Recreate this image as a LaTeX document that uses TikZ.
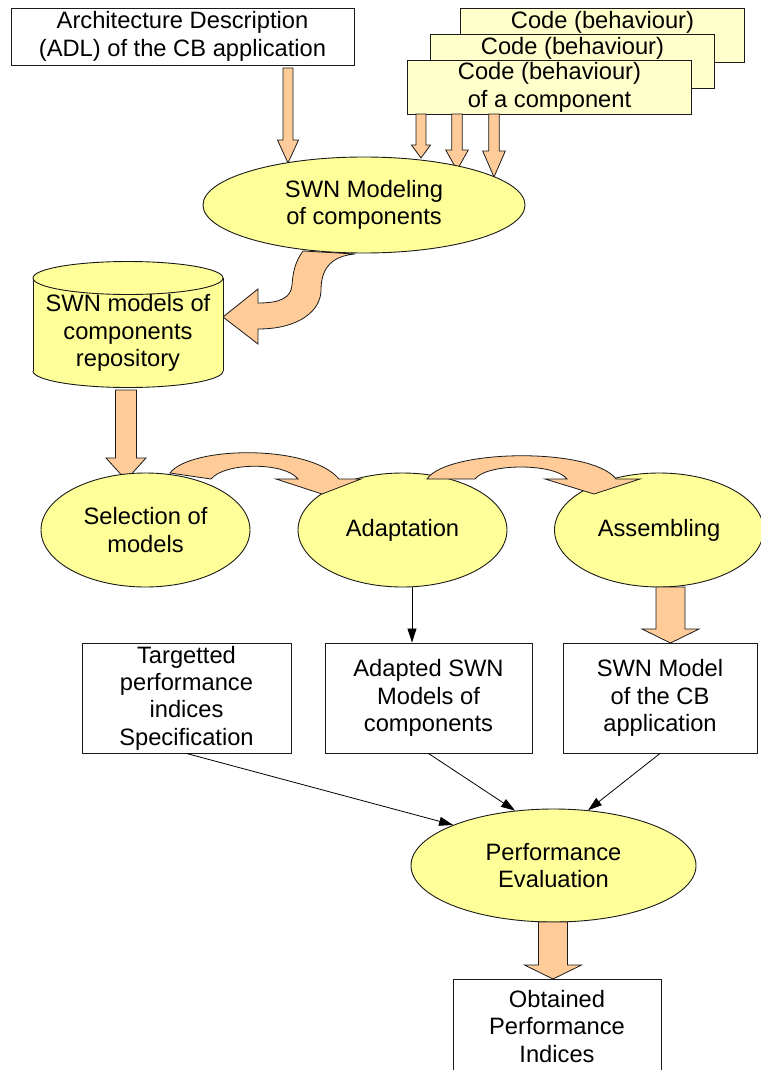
\documentclass[tikz,border=0pt]{standalone}
\usepackage{fontspec}
\setmainfont{Liberation Sans}
\usetikzlibrary{arrows.meta,calc,shapes.geometric}
\definecolor{ellfill}{HTML}{FFFF99}
\definecolor{codefill}{HTML}{FFFFCC}
\definecolor{arrfill}{HTML}{FFCC99}
\definecolor{edge}{HTML}{1A1A1A}
\newcommand\blockarrow[5]{%
  \filldraw[barrow] let \p1=(#1), \p2=(#2) in
   (\x2-#3pt,\y1) -- (\x2-#3pt,\y2+#5pt) -- (\x2-#4pt,\y2+#5pt) -- (\x2,\y2) --
   (\x2+#4pt,\y2+#5pt) -- (\x2+#3pt,\y2+#5pt) -- (\x2+#3pt,\y1) -- cycle;}
\tikzset{
  every node/.style={font=\fontsize{23.7pt}{27.3pt}\selectfont},
  ell/.style={ellipse, draw=edge, fill=ellfill, line width=0.9pt, inner sep=0pt, align=center},
  box/.style={rectangle, draw=edge, fill=white, line width=0.9pt, inner sep=0pt, align=center},
  codebox/.style={box, fill=codefill, minimum width=284pt, minimum height=54pt},
  plaintext/.style={inner sep=0pt, align=center},
  barrow/.style={fill=arrfill, draw=edge, line width=0.8pt, line join=miter},
  conn/.style={draw=black, line width=0.8pt, -{Triangle[length=14pt,width=9pt]}},
  edgeline/.style={draw=edge, line width=0.9pt}
}
\begin{document}
\begin{tikzpicture}[x=1pt,y=-1pt]
\useasboundingbox (0,0) rectangle (760,1070);

% top inputs
\node[box, minimum width=343pt, minimum height=57pt] (adl) at (182.5,36.5)
  {Architecture Description\\(ADL) of the CB application};
\node[codebox] (code3) at (602.5,35) {};
\node[plaintext] (code3t) at (602.5,22) {Code (behaviour)};
\node[codebox] (code2) at (572.5,61) {};
\node[plaintext] (code2t) at (572.5,48) {Code (behaviour)};
\node[codebox] (code1) at (549.5,87.5) {Code (behaviour)\\of a component};

\blockarrow{288,68}{288,163}{5}{10.5}{23}
\blockarrow{421,114}{421,158}{5}{9.5}{13}
\blockarrow{457,114}{457,170}{5.2}{11.3}{20}
\blockarrow{494,114}{494,177}{5.3}{11.3}{26}

% curved arrow SWN modeling -> repository
\filldraw[barrow] (303,251) .. controls (295,262) and (293,272) .. (292,285)
  .. controls (291,298) and (280,303) .. (258,303) -- (258,289) -- (223,317)
  -- (258,344) -- (258,329) .. controls (300,329) and (321,310) .. (321,290)
  .. controls (321,268) and (332,256) .. (355,254) -- cycle;

\node[ell, minimum width=322pt, minimum height=96pt] (swn) at (364,205)
  {SWN Modeling\\of components};

% cylinder repository
\fill[ellfill] (33,278) rectangle (223,371);
\fill[ellfill] (128,371) ellipse [x radius=95, y radius=16.5];
\begin{scope}
  \clip (28,371) rectangle (228,395);
  \draw[edgeline] (128,371) ellipse [x radius=95, y radius=16.5];
\end{scope}
\draw[edgeline] (33,278) -- (33,371) (223,278) -- (223,371);
\filldraw[edgeline, fill=ellfill] (128,278) ellipse [x radius=95, y radius=16.5];
\node[plaintext] (repo) at (128,333)
  {SWN models of\\components\\repository};

\blockarrow{126,390}{126,480}{10.5}{20}{22}

% process ellipses
\node[ell, minimum width=209pt, minimum height=114pt] (sel) at (145.5,530) {Selection of\\models};
\node[ell, minimum width=209pt, minimum height=114pt] (adapt) at (402.5,530) {Adaptation};
\node[ell, minimum width=209pt, minimum height=114pt] (assem) at (659,530) {Assembling};

% curved arrows between ellipses
\filldraw[barrow] (170,473) .. controls (190,446) and (310,444) .. (339,479)
  -- (361,479) -- (322,494) -- (276,479) -- (298,479)
  .. controls (285,462) and (225,462) .. (211,479) -- cycle;
\filldraw[barrow] (427,479) .. controls (447,449) and (592,447) .. (616,479)
  -- (640,479) -- (594,494) -- (545,479) -- (567,479)
  .. controls (555,463) and (487,463) .. (475,479) -- cycle;

\blockarrow{670.5,587}{670.5,643}{14.5}{28.5}{14}

% result boxes
\node[box, minimum width=209pt, minimum height=110pt] (targ) at (186.5,698)
  {Targetted\\performance\\indices\\Specification};
\node[box, minimum width=207pt, minimum height=110pt] (adaptbox) at (428.5,698)
  {Adapted SWN\\Models of\\components};
\node[box, minimum width=194pt, minimum height=110pt] (swnbox) at (660,698)
  {SWN Model\\of the CB\\application};

\coordinate (ax) at (412,0);
\draw[conn] (adapt.south -| ax) -- (adaptbox.north -| ax);

\node[ell, minimum width=285pt, minimum height=113pt] (perf) at (553.5,865.5)
  {Performance\\Evaluation};

\draw[conn] (targ.south) -- (perf.158);
\draw[conn] (adaptbox.south) -- (perf.125);
\draw[conn] (swnbox.south) -- (perf.58);

\blockarrow{553,922}{553,979}{14.5}{28.5}{14}
\node[box, minimum width=208pt, minimum height=95pt] (obt) at (557,1026.5)
  {Obtained\\Performance\\Indices};
\end{tikzpicture}
\end{document}
